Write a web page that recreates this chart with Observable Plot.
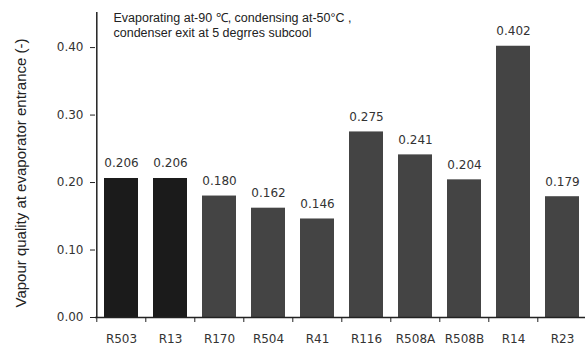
<!DOCTYPE html>
<html><head><meta charset="utf-8">
<script src="https://cdn.jsdelivr.net/npm/d3@7"></script>
<script src="https://cdn.jsdelivr.net/npm/@observablehq/plot@0.6"></script>
<style>
html,body{margin:0;padding:0;background:#fff;}
#chart{position:relative;width:585px;height:347px;}
</style>
</head><body>
<div id="chart"></div>
<script>
const refrigerants = ["R503","R13","R170","R504","R41","R116","R508A","R508B","R14","R23"];
const quality = [0.206,0.206,0.180,0.162,0.146,0.275,0.241,0.204,0.402,0.179];
const barColors = ["#1b1b1b","#1b1b1b","#444444","#444444","#444444","#444444","#444444","#444444","#444444","#444444"];
const yTicks = [0,0.1,0.2,0.3,0.4];
const note = ["Evaporating at-90 \u2103, condensing at-50\u00b0C ,\ncondenser exit at 5 degrres subcool"];
const yLabel = "Vapour quality at evaporator entrance (-)";

const data = refrigerants.map((r,i)=>({r, v: quality[i], c: barColors[i]}));
const W = 585, ML = 95, MR = -4;
const step = (W - ML - MR) / refrigerants.length;

const chart = Plot.plot({
  width: W, height: 347,
  marginLeft: ML, marginRight: MR, marginTop: 12, marginBottom: 30,
  style: {fontFamily: "DejaVu Sans, Verdana, sans-serif", fontSize: "12px", color: "#222", background: "#fff"},
  x: {domain: refrigerants, paddingInner: 0.3, paddingOuter: 0.15, label: null},
  y: {domain: [0, 0.452], label: null},
  marks: [
    Plot.barY(data, {x: "r", y: "v", fill: "c"}),
    Plot.text(data, {x: "r", y: "v", text: d => d.v.toFixed(3), dy: -15, fill: "#333", fontSize: 12}),
    Plot.ruleY([0], {stroke: "#222", strokeWidth: 1.3}),
    Plot.ruleX([refrigerants[0]], {y1: 0, y2: 0.452, dx: -step/2, stroke: "#222", strokeWidth: 1.5}),
    Plot.axisY({ticks: yTicks, tickFormat: d3.format(".2f"), tickSize: 5, tickPadding: 7, label: null, fontSize: 12, fill: "#333", stroke: "#222"}),
    Plot.axisX({tickSize: 0, tickPadding: 17, label: null, fontSize: 12, fill: "#333"}),
    Plot.axisX({text: null, tickSize: 5, dx: -step/2, label: null, stroke: "#222"}),
    Plot.text(note, {frameAnchor: "top-left", textAnchor: "start", lineAnchor: "top", dx: 18, dy: -2, lineHeight: 1.25, fontFamily: "Liberation Sans, Arial, sans-serif", fontSize: 12.5, fill: "#222"}),
    Plot.text([yLabel], {frameAnchor: "left", textAnchor: "middle", rotate: -90, dx: -74, dy: 8, fontFamily: "Liberation Sans, Arial, sans-serif", fontSize: 15, fill: "#222"})
  ]
});
document.getElementById("chart").appendChild(chart);
</script>
</body></html>
